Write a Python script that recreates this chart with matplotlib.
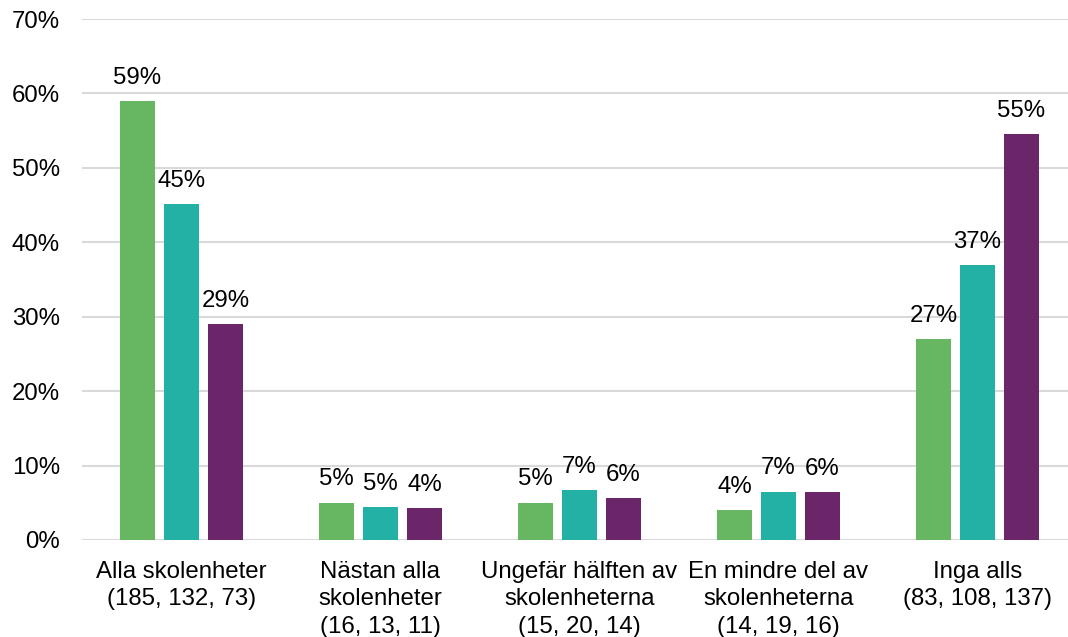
import matplotlib
matplotlib.use("Agg")
import matplotlib.pyplot as plt
import numpy as np

categories = ["Alla skolenheter\n(185, 132, 73)",
              "Nästan alla\nskolenheter\n(16, 13, 11)",
              "Ungefär hälften av\nskolenheterna\n(15, 20, 14)",
              "En mindre del av\nskolenheterna\n(14, 19, 16)",
              "Inga alls\n(83, 108, 137)"]

serie_1 = [59.0, 5.0, 5.0, 4.0, 27.0]
serie_2 = [45.1, 4.4, 6.7, 6.5, 36.9]
serie_3 = [29.0, 4.3, 5.6, 6.4, 54.5]

labels_1 = ["59%", "5%", "5%", "4%", "27%"]
labels_2 = ["45%", "5%", "7%", "7%", "37%"]
labels_3 = ["29%", "4%", "6%", "6%", "55%"]

colors = ["#66B662", "#23B1A6", "#6B266A"]

plt.rcParams['font.family'] = ['Liberation Sans', 'DejaVu Sans']
fs = 17.3

fig = plt.figure(figsize=(10.68, 6.37), dpi=100)
W, H = 1068, 637
ax = fig.add_axes([82 / W, (H - 540) / H, 995 / W, 521 / H])

x = np.arange(len(categories))
width = 0.176
step = 0.221

series = [serie_1, serie_2, serie_3]
labels = [labels_1, labels_2, labels_3]
for i, (vals, labs) in enumerate(zip(series, labels)):
    pos = x + (i - 1) * step
    ax.bar(pos, vals, width=width, color=colors[i], zorder=3)
    for px, v, lab in zip(pos, vals, labs):
        ax.annotate(lab, (px, v), xytext=(0, 12.5), textcoords="offset points",
                    ha="center", va="baseline", fontsize=fs, color="#000000")

ax.set_xlim(-0.5, 4.5)
ax.set_ylim(0, 70)
ax.set_yticks(range(0, 71, 10))
ax.set_yticklabels([f"{t}%" for t in range(0, 71, 10)], fontsize=fs)
ax.set_xticks(x)
ax.set_xticklabels(categories, fontsize=fs, linespacing=1.33)
ax.tick_params(axis="both", length=0)
ax.tick_params(axis="y", pad=16)
ax.tick_params(axis="x", pad=15)
ax.grid(axis="y", color="#D9D9D9", linewidth=1.5, zorder=0)
for s in ax.spines.values():
    s.set_visible(False)

fig.savefig("out.png", dpi=100)
